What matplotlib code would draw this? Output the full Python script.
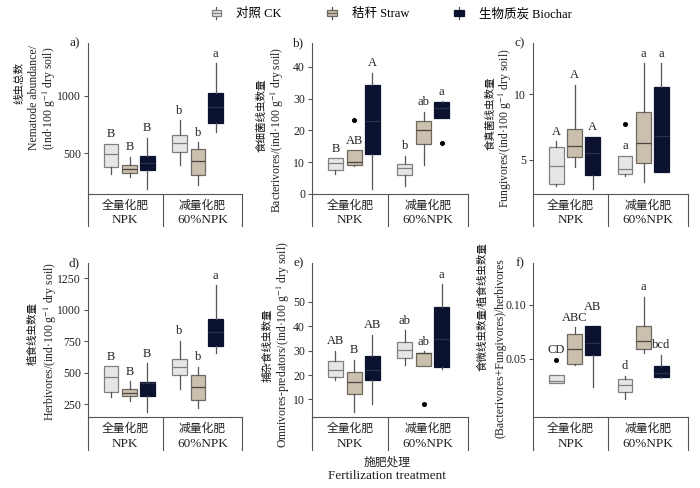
import matplotlib
matplotlib.use('Agg')
import matplotlib.pyplot as plt
from matplotlib.patches import Rectangle, Patch
from matplotlib.lines import Line2D
from matplotlib.legend_handler import HandlerBase

plt.rcParams['font.family'] = ['Liberation Serif', 'Noto Sans CJK SC']
plt.rcParams['mathtext.fontset'] = 'stix'

# box order: CK-NPK, Straw-NPK, Biochar-NPK, CK-60%NPK, Straw-60%NPK, Biochar-60%NPK
treatments = ['对照 CK', '秸秆 Straw', '生物质炭 Biochar']
groups = [('全量化肥', 'NPK'), ('减量化肥', '60%NPK')]

# a) total nematode abundance
a_lo = [321, 298, 188, 399, 225, 688]
a_q1 = [379, 332, 355, 514, 315, 766]
a_med = [491, 361, 420, 587, 434, 900]
a_q3 = [581, 399, 480, 656, 538, 1020]
a_hi = [581, 471, 636, 789, 595, 1280]
a_fl = [[], [], [], [], [], []]
a_let = ['B', 'B', 'B', 'b', 'b', 'a']

# b) bacterivores
b_lo = [6.4, 8.7, 1.6, 2.4, 9.2, 23.9]
b_q1 = [7.5, 9.2, 12.6, 6.1, 15.7, 23.9]
b_med = [9.8, 10.0, 22.9, 8.2, 20.0, 27.0]
b_q3 = [11.2, 13.7, 34.2, 9.3, 22.9, 28.9]
b_hi = [11.2, 13.7, 38.1, 12.1, 25.8, 29.2]
b_fl = [[], [23.2], [], [], [], [16.1]]
b_let = ['B', 'AB', 'A', 'b', 'ab', 'a']

# c) fungivores
c_lo = [2.97, 4.49, 2.77, 3.80, 3.35, 4.11]
c_q1 = [3.17, 5.18, 3.81, 3.93, 4.75, 4.11]
c_med = [4.54, 6.02, 5.50, 4.29, 6.27, 6.78]
c_q3 = [5.96, 7.36, 6.75, 5.33, 8.63, 10.58]
c_hi = [6.40, 10.71, 6.75, 5.33, 12.36, 12.36]
c_fl = [[], [], [], [7.72], [], []]
c_let = ['A', 'A', 'A', 'a', 'a', 'a']

# d) herbivores
d_lo = [308, 276, 189, 375, 223, 653]
d_q1 = [348, 316, 314, 486, 282, 712]
d_med = [465, 343, 420, 547, 388, 820]
d_q3 = [552, 369, 428, 613, 481, 926]
d_hi = [552, 433, 574, 754, 547, 1192]
d_fl = [[], [], [], [], [], []]
d_let = ['B', 'B', 'B', 'b', 'b', 'a']

# e) omnivores-predators
e_lo = [18.0, 4.9, 8.3, 24.1, 23.8, 22.7]
e_q1 = [19.1, 12.2, 18.0, 27.0, 23.8, 23.5]
e_med = [22.1, 17.3, 22.0, 30.4, 28.9, 35.0]
e_q3 = [25.9, 21.3, 27.9, 33.7, 29.2, 47.9]
e_hi = [30.0, 26.3, 36.6, 38.3, 29.7, 57.3]
e_fl = [[], [], [], [], [8.2], []]
e_let = ['AB', 'B', 'AB', 'ab', 'ab', 'a']

# f) (bacterivores+fungivores)/herbivores
f_lo = [0.0275, 0.0444, 0.0238, 0.0130, 0.0552, 0.0320]
f_q1 = [0.0275, 0.0454, 0.0531, 0.0191, 0.0593, 0.0330]
f_med = [0.0296, 0.0590, 0.0650, 0.0259, 0.0667, 0.0370]
f_q3 = [0.0352, 0.0731, 0.0806, 0.0315, 0.0806, 0.0429]
f_hi = [0.0352, 0.0793, 0.0806, 0.0343, 0.1077, 0.0537]
f_fl = [[0.049], [], [], [], [], []]
f_let = ['CD', 'ABC', 'AB', 'd', 'a', 'bcd']

fills = ['#e6e6e6', '#cbbfad', '#0b1230']
edges = ['#808080', '#6e6a62', '#0b1230']
meds = ['#808080', '#4a4640', '#2c3245']
line_c = '#555555'
text_c = '#222222'

positions = [0.30, 0.54, 0.77, 1.19, 1.43, 1.66]
sep = 0.97
label_x = [0.485, 1.485]

# (tag, data..., ylim, ticks, ticklabels, chinese label, english label, over fliers,
#  label placement in axes fractions: x_cn, y_cn, x_en, y_en)
panels = [
    ('a)', a_lo, a_q1, a_med, a_q3, a_hi, a_fl, a_let, (147, 1457), [500, 1000], None,
     '线虫总数', 'Nematode abundance/\n(ind·100 g$^{-1}$ dry soil)', False,
     (-0.448, 0.735, -0.292, 0.636)),
    ('b)', b_lo, b_q1, b_med, b_q3, b_hi, b_fl, b_let, (0, 47.5), [0, 10, 20, 30, 40], None,
     '食细菌线虫数量', 'Bacterivores/(ind·100 g$^{-1}$ dry soil)', False,
     (-0.322, 0.523, -0.224, 0.424)),
    ('c)', c_lo, c_q1, c_med, c_q3, c_hi, c_fl, c_let, (2.4, 13.9), [5, 10], None,
     '食真菌线虫数量', 'Fungivores/(ind·100 g$^{-1}$ dry soil)', False,
     (-0.272, 0.536, -0.178, 0.437)),
    ('d)', d_lo, d_q1, d_med, d_q3, d_hi, d_fl, d_let, (150, 1370), [250, 500, 750, 1000, 1250], None,
     '植食线虫数量', 'Herbivores/(ind·100 g$^{-1}$ dry soil)', False,
     (-0.357, 0.545, -0.247, 0.487)),
    ('e)', e_lo, e_q1, e_med, e_q3, e_hi, e_fl, e_let, (2.8, 66), [10, 20, 30, 40, 50], None,
     '捕杂食线虫数量', 'Omnivores-predators/(ind·100 g$^{-1}$ dry soil)', False,
     (-0.285, 0.468, -0.186, 0.468)),
    ('f)', f_lo, f_q1, f_med, f_q3, f_hi, f_fl, f_let, (-0.004, 0.139), [0.05, 0.10], ['0.05', '0.10'],
     '食微线虫数量/植食线虫数量', '(Bacterivores+Fungivores)/herbivores', True,
     (-0.329, 0.714, -0.213, 0.448)),
]

fig = plt.figure(figsize=(7, 4.88), dpi=100)

lefts = [0.1257, 0.4457, 0.7614]
widths = [0.220, 0.223, 0.221]
bottoms = [0.6025, 0.1455]
heights = [0.3094, 0.3156]

for k, (tag, lo, q1, med, q3, hi, fl, let, ylim, yt, ytl, ycn, yen, over_fl, lp) in enumerate(panels):
    r, c = divmod(k, 3)
    ax = fig.add_axes([lefts[c], bottoms[r], widths[c], heights[r]])
    for i in range(6):
        t = i % 3
        st = dict(whislo=lo[i], q1=q1[i], med=med[i], q3=q3[i], whishi=hi[i], fliers=fl[i])
        ax.bxp([st], positions=[positions[i]], widths=0.19, patch_artist=True,
               showcaps=False,
               boxprops=dict(facecolor=fills[t], edgecolor=edges[t], linewidth=0.9),
               whiskerprops=dict(color=line_c, linewidth=0.9),
               medianprops=dict(color=meds[t], linewidth=0.9),
               flierprops=dict(marker='o', markersize=2.6, markerfacecolor='black',
                               markeredgecolor='black'))
        top = hi[i]
        if over_fl and fl[i]:
            top = max(top, max(fl[i]))
        lift = 2.5
        if tag == 'f)' and i == 2:
            lift = 9  # AB sits higher than ABC in the original
        ax.annotate(let[i], (positions[i], top), xytext=(0, lift), textcoords='offset points',
                    ha='center', va='bottom', fontsize=9, color=text_c)
    ax.set_xlim(0, 2)
    ax.set_ylim(*ylim)
    ax.set_yticks(yt)
    if ytl:
        ax.set_yticklabels(ytl)
    ax.set_xticks([])
    for s in ['top', 'right']:
        ax.spines[s].set_visible(False)
    for s in ['left', 'bottom']:
        ax.spines[s].set_color(line_c)
        ax.spines[s].set_linewidth(0.8)
    ax.tick_params(axis='y', direction='out', length=3, width=0.8, color=line_c,
                   labelsize=8.5, labelcolor=text_c, pad=2)
    # axis titles: small Chinese line, English line(s)
    ax.text(lp[0], lp[1], ycn, transform=ax.transAxes, rotation=90, ha='center',
            va='center', fontsize=7.6, color='#111111')
    ax.text(lp[2], lp[3], yen, transform=ax.transAxes, rotation=90, ha='center',
            va='center', fontsize=8.5, color=text_c, linespacing=1.05)
    # table below the axis
    for xx in [0, sep / 2, 1.0]:
        ax.plot([xx, xx], [0, -0.215], transform=ax.transAxes, color=line_c,
                linewidth=0.8, clip_on=False)
    for g, (cn, en) in enumerate(groups):
        xa = label_x[g] / 2
        ax.text(xa, -0.08, cn, transform=ax.transAxes, ha='center', va='center',
                fontsize=8.5, color=text_c)
        ax.text(xa, -0.175, en, transform=ax.transAxes, ha='center', va='center',
                fontsize=9.5, color=text_c)
    ax.text(-0.055, 1.0, tag, transform=ax.transAxes, ha='right', va='center',
            fontsize=9.5, color=text_c)

fig.text(0.553, 0.053, '施肥处理', ha='center', va='center', fontsize=8.5, color=text_c)
fig.text(0.553, 0.024, 'Fertilization treatment', ha='center', va='center', fontsize=9.5,
         color=text_c)


class BoxHandler(HandlerBase):
    def create_artists(self, legend, orig_handle, xdescent, ydescent, width, height,
                       fontsize, trans):
        fc = orig_handle.get_facecolor()
        ec = orig_handle.get_edgecolor()
        w = height * 1.1
        x0 = -xdescent + (width - w) / 2
        y0 = -ydescent
        box = Rectangle((x0, y0 + 0.12 * height), w, 0.76 * height, facecolor=fc,
                        edgecolor=ec, linewidth=0.9, transform=trans)
        mid = Line2D([x0, x0 + w], [y0 + 0.5 * height] * 2, color=ec, linewidth=0.9,
                     transform=trans)
        wt = Line2D([x0 + w / 2] * 2, [y0 + 0.88 * height, y0 + 1.15 * height], color=line_c,
                    linewidth=0.9, transform=trans)
        wb = Line2D([x0 + w / 2] * 2, [y0 - 0.15 * height, y0 + 0.12 * height], color=line_c,
                    linewidth=0.9, transform=trans)
        return [wt, wb, box, mid]


handles = [Patch(facecolor=fills[i], edgecolor=edges[i] if i < 2 else fills[i])
           for i in range(3)]
fig.legend(handles, treatments, loc='center', bbox_to_anchor=(0.556, 0.971), ncol=3,
           frameon=False, fontsize=9, handler_map={Patch: BoxHandler()},
           handlelength=1.6, columnspacing=3.2, handletextpad=0.8)

fig.savefig('out.png', dpi=100)
